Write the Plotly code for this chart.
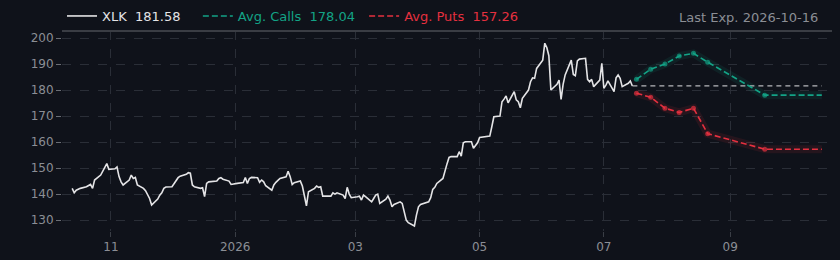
import pandas as pd
import plotly.graph_objects as go

ticker = "XLK"
last_exp = "2026-10-16"

# Daily closes by month (business days)
oct_25 = [142.2, 140.5, 141.5, 141.9, 142.2, 142.8, 143.2, 143.7, 142.2, 145.4, 147.3, 148.6, 150.1, 151.7, 149.5]
nov_25 = [149.7, 150.4, 146.7, 144.7, 143.5, 145.4, 147.3, 146.0, 146.4, 143.5, 142.2, 141.3, 139.6, 138.3, 135.8,
          138.1, 139.6, 140.5, 142.2, 142.7]
dec_25 = [142.8, 144.1, 145.0, 146.3, 146.9, 147.6, 148.2, 148.0, 143.5, 142.8, 142.2, 142.4, 139.0, 144.1, 144.7,
          145.0, 145.0, 146.0, 146.3, 145.7, 145.0, 143.7, 143.9]
jan_26 = [143.9, 144.1, 144.4, 146.4, 144.1, 146.0, 146.4, 146.3, 144.5, 145.4, 144.7, 143.2, 141.5, 143.5, 144.5,
          145.4, 146.0, 146.6, 148.8, 146.7, 143.7, 144.4]
feb_26 = [145.0, 143.1, 139.6, 135.5, 140.9, 142.2, 143.1, 142.6, 142.8, 139.2, 139.2, 139.2, 140.5, 140.0, 140.5,
          139.6, 138.3, 142.6, 140.0, 138.6]
mar_26 = [139.0, 139.2, 137.7, 139.6, 139.0, 137.0, 138.3, 139.6, 140.0, 136.4, 138.0, 139.2, 137.7, 135.1, 136.0,
          137.0, 136.4, 132.6, 130.0, 129.0, 127.7, 131.9]
apr_26 = [135.1, 136.0, 136.2, 137.0, 138.6, 141.8, 142.6, 144.1, 146.0, 149.2, 151.6, 154.1, 154.4, 154.4, 156.3,
          154.6, 159.7, 160.1, 160.1, 157.6, 158.8, 159.7]
may_26 = [161.8, 162.0, 162.0, 162.3, 165.9, 169.7, 170.0, 175.5, 176.5, 177.7, 175.1, 179.4, 176.2, 175.5, 173.2,
          176.8, 180.0, 183.2, 184.7, 184.5, 188.3]
jun_26 = [191.5, 198.0, 196.3, 193.2, 180.0, 182.2, 183.8, 176.4, 182.2, 185.8, 191.5, 186.0, 185.5, 191.2, 191.9,
          192.2, 184.1, 183.2, 184.1, 181.3, 183.8, 190.3]
jul_26 = [180.7, 181.9, 183.5, 179.4, 184.7, 185.8, 184.5, 181.3, 182.6, 183.5, 181.58]

prices = oct_25 + nov_25 + dec_25 + jan_26 + feb_26 + mar_26 + apr_26 + may_26 + jun_26 + jul_26
dates = pd.bdate_range(start="2025-10-13", periods=len(prices))
last_price = prices[-1]

exp_dates = ["2026-07-17", "2026-07-24", "2026-07-31", "2026-08-07", "2026-08-14", "2026-08-21", "2026-09-18", "2026-10-16"]
avg_calls = [184.1, 188.0, 190.0, 193.1, 194.1, 190.7, 178.04, 178.04]
avg_puts = [178.8, 177.2, 173.0, 171.4, 173.0, 163.2, 157.26, 157.26]
show_marker = [True, True, True, True, True, True, True, False]

tick_vals = ["2025-11-01", "2026-01-01", "2026-03-01", "2026-05-01", "2026-07-01", "2026-09-01"]
tick_text = ["11", "2026", "03", "05", "07", "09"]
y_ticks = [130, 140, 150, 160, 170, 180, 190, 200]

BG = "#0f121a"
TEAL = "#13a386"
RED = "#e5303f"
WHITE = "#e4e4e6"
GRAY = "#8b8e95"
GRID = "#2a2e37"
SP = "\u00a0"
DASH = "6px,3px"

msizes = [5 if s else 0 for s in show_marker]

fig = go.Figure()

# glow layers
fig.add_trace(go.Scatter(x=exp_dates, y=avg_calls, mode="lines", line=dict(color=TEAL, width=8),
                         opacity=0.10, showlegend=False, hoverinfo="skip"))
fig.add_trace(go.Scatter(x=exp_dates, y=avg_puts, mode="lines", line=dict(color=RED, width=8),
                         opacity=0.10, showlegend=False, hoverinfo="skip"))

fig.add_trace(go.Scatter(x=dates, y=prices, mode="lines", line=dict(color=WHITE, width=1.6),
                         name=f"<span style='color:{WHITE}'>{ticker}{SP*2}{last_price:.2f}</span>{SP*3}"))

fig.add_trace(go.Scatter(x=[dates[-1], exp_dates[-1]], y=[last_price, last_price], mode="lines",
                         line=dict(color="#b8b8bc", width=1.2, dash="5px,4px"), showlegend=False, hoverinfo="skip"))

fig.add_trace(go.Scatter(x=exp_dates, y=avg_calls, mode="lines",
                         line=dict(color=TEAL, width=1.6, dash=DASH),
                         name=f"<span style='color:{TEAL}'>Avg. Calls{SP*2}{avg_calls[-1]:.2f}</span>{SP}"))
fig.add_trace(go.Scatter(x=exp_dates, y=avg_puts, mode="lines",
                         line=dict(color=RED, width=1.6, dash=DASH),
                         name=f"<span style='color:{RED}'>Avg. Puts{SP*2}{avg_puts[-1]:.2f}</span>"))
fig.add_trace(go.Scatter(x=exp_dates, y=avg_calls, mode="markers", showlegend=False, hoverinfo="skip",
                         marker=dict(size=msizes, color=TEAL, line=dict(width=0))))
fig.add_trace(go.Scatter(x=exp_dates, y=avg_puts, mode="markers", showlegend=False, hoverinfo="skip",
                         marker=dict(size=msizes, color=RED, line=dict(width=0))))

fig.add_shape(type="line", xref="paper", yref="paper", x0=0, x1=1, y0=1.0, y1=1.0,
              line=dict(color="#3a3d44", width=2))

fig.add_annotation(xref="paper", yref="paper", x=0.985, y=1.0, yshift=4, xanchor="right", yanchor="bottom",
                   text=f"Last Exp. {last_exp}", showarrow=False, font=dict(color=GRAY, size=13))

fig.update_layout(
    width=840, height=260,
    margin=dict(l=62, r=8, t=31, b=29, autoexpand=False),
    paper_bgcolor=BG, plot_bgcolor=BG,
    font=dict(family="DejaVu Sans", color=GRAY, size=12),
    legend=dict(orientation="h", x=0.0, xanchor="left", y=1.0, yanchor="bottom",
                font=dict(size=13), bgcolor="rgba(0,0,0,0)", itemwidth=30, tracegroupgap=0),
    xaxis=dict(range=["2025-10-08", "2026-10-21"], tickvals=tick_vals, ticktext=tick_text,
               showgrid=True, gridcolor=GRID, griddash="dash", gridwidth=1,
               ticks="outside", ticklen=5, tickcolor="#3a3e46", zeroline=False, showline=False,
               tickfont=dict(size=12, color=GRAY)),
    yaxis=dict(range=[125.8, 202.7], tickvals=y_ticks, showgrid=True, gridcolor=GRID, griddash="dash",
               gridwidth=1, ticks="outside", ticklen=5, tickcolor="#6a6d74", zeroline=False, showline=False,
               tickfont=dict(size=12, color=GRAY)),
)

fig.write_html("out.html")
